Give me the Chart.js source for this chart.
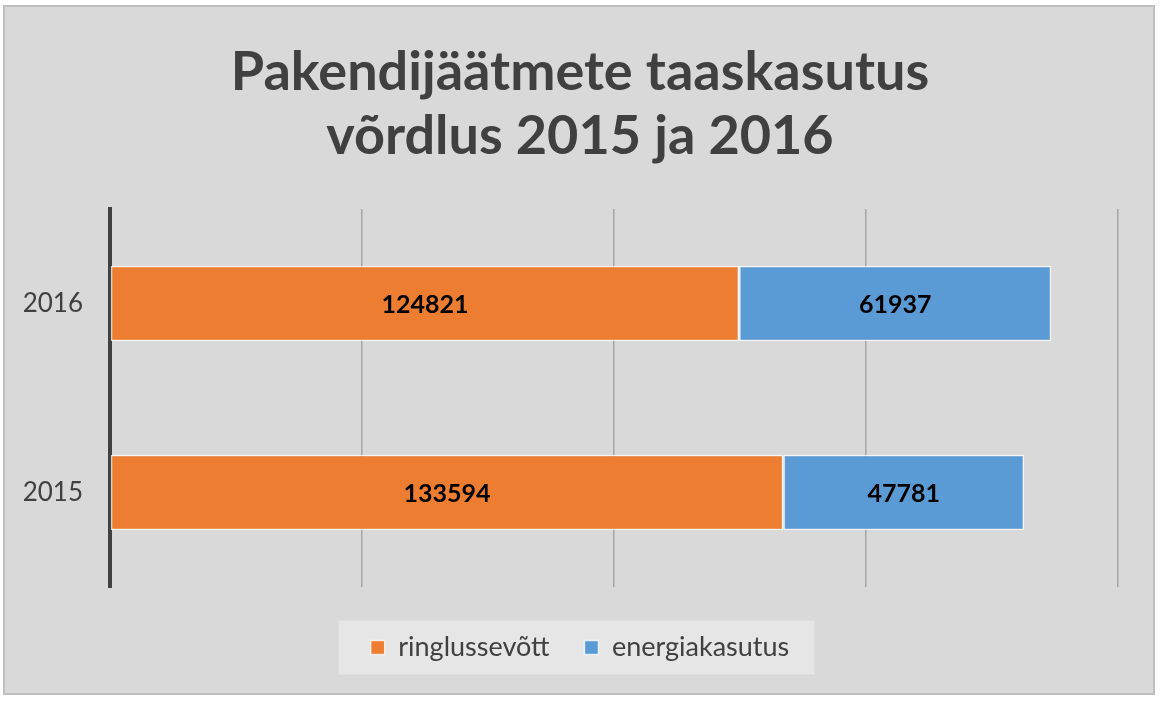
<!DOCTYPE html>
<html>
<head>
<meta charset="utf-8">
<script src="https://cdn.jsdelivr.net/npm/chart.js@4.4.1/dist/chart.umd.min.js"></script>
<style>
  html, body { margin: 0; padding: 0; background: #fff; }
  #wrap { width: 1160px; height: 701px; position: relative; }
</style>
</head>
<body>
<div id="wrap"><canvas id="chart"></canvas></div>
<script>
const years = ['2016', '2015'];
const recycling = [124821, 133594];
const energyRecovery = [61937, 47781];
const seriesNames = ['ringlussevõtt', 'energiakasutus'];
const titleLines = ['Pakendijäätmete taaskasutus', 'võrdlus 2015 ja 2016'];

const FONT = "Lato, 'Open Sans', sans-serif";

// frame + legend backdrop
const backdrop = {
    id: 'backdrop',
    beforeDraw(chart) {
        const ctx = chart.ctx;
        ctx.save();
        ctx.fillStyle = '#ffffff';
        ctx.fillRect(0, 0, chart.width, chart.height);
        ctx.fillStyle = '#bfbfbf';
        ctx.fillRect(3, 5, 1152, 690);
        ctx.fillStyle = '#d9d9d9';
        ctx.fillRect(5, 7, 1148, 686);

        const boxes = chart.legend.legendHitBoxes;
        if (boxes && boxes.length) {
            const first = boxes[0], last = boxes[boxes.length - 1];
            const cy = first.top + first.height / 2;
            ctx.fillStyle = '#e6e6e6';
            ctx.fillRect(first.left - 32, cy - 27, (last.left + last.width + 25) - (first.left - 32), 54);
        }
        ctx.restore();
    }
};

// value labels in the middle of each bar
const valueLabels = {
    id: 'valueLabels',
    afterDatasetsDraw(chart) {
        const ctx = chart.ctx;
        ctx.save();
        ctx.font = "bold 25px " + FONT;
        ctx.fillStyle = '#000';
        ctx.textAlign = 'center';
        ctx.textBaseline = 'middle';
        chart.data.datasets.forEach((ds, i) => {
            chart.getDatasetMeta(i).data.forEach((el, j) => {
                const p = el.getCenterPoint();
                ctx.fillText(ds.data[j], p.x, p.y + 1);
            });
        });
        ctx.restore();
    }
};

new Chart(document.getElementById('chart'), {
    type: 'bar',
    data: {
        labels: years,
        datasets: [
            {
                label: seriesNames[0],
                data: recycling,
                backgroundColor: '#ed7d31',
                borderColor: 'rgba(255,255,255,0.75)',
                borderWidth: 1.5,
                borderSkipped: false,
                barPercentage: 0.4,
                categoryPercentage: 1
            },
            {
                label: seriesNames[1],
                data: energyRecovery,
                backgroundColor: '#5b9bd5',
                borderColor: 'rgba(255,255,255,0.75)',
                borderWidth: 1.5,
                borderSkipped: false,
                barPercentage: 0.4,
                categoryPercentage: 1
            }
        ]
    },
    options: {
        indexAxis: 'y',
        responsive: true,
        maintainAspectRatio: false,
        animation: false,
        devicePixelRatio: 1,
        layout: { padding: { left: 10, right: 10, top: 0, bottom: 30 } },
        plugins: {
            title: {
                display: true,
                text: titleLines,
                color: '#404040',
                font: { family: FONT, size: 54, weight: 'bold', lineHeight: 1.185 },
                padding: { top: 41, bottom: 40 }
            },
            legend: {
                position: 'bottom',
                labels: {
                    color: '#404040',
                    font: { family: FONT, size: 27 },
                    boxWidth: 14,
                    boxHeight: 14,
                    padding: 35
                }
            },
            tooltip: { enabled: false }
        },
        scales: {
            x: {
                stacked: true,
                min: 0,
                max: 200000,
                ticks: { display: false, stepSize: 50000 },
                grid: { color: '#a6a6a6', lineWidth: 1.5, drawTicks: false },
                border: { display: false },
                afterFit: s => { s.height = 12; }
            },
            y: {
                stacked: true,
                z: 1,
                ticks: { color: '#404040', font: { family: FONT, size: 26 }, padding: 27 },
                grid: { color: 'rgba(0,0,0,0)', drawTicks: false },
                border: { display: true, color: '#404040', width: 4 },
                afterFit: s => { s.width = 100; }
            },
            // empty right-hand spacer so the plot sits where the original has it
            spacer: {
                type: 'linear',
                position: 'right',
                ticks: { display: false },
                grid: { display: false, drawTicks: false },
                border: { display: false },
                afterFit: s => { s.width = 32; }
            }
        }
    },
    plugins: [backdrop, valueLabels]
});
</script>
</body>
</html>
